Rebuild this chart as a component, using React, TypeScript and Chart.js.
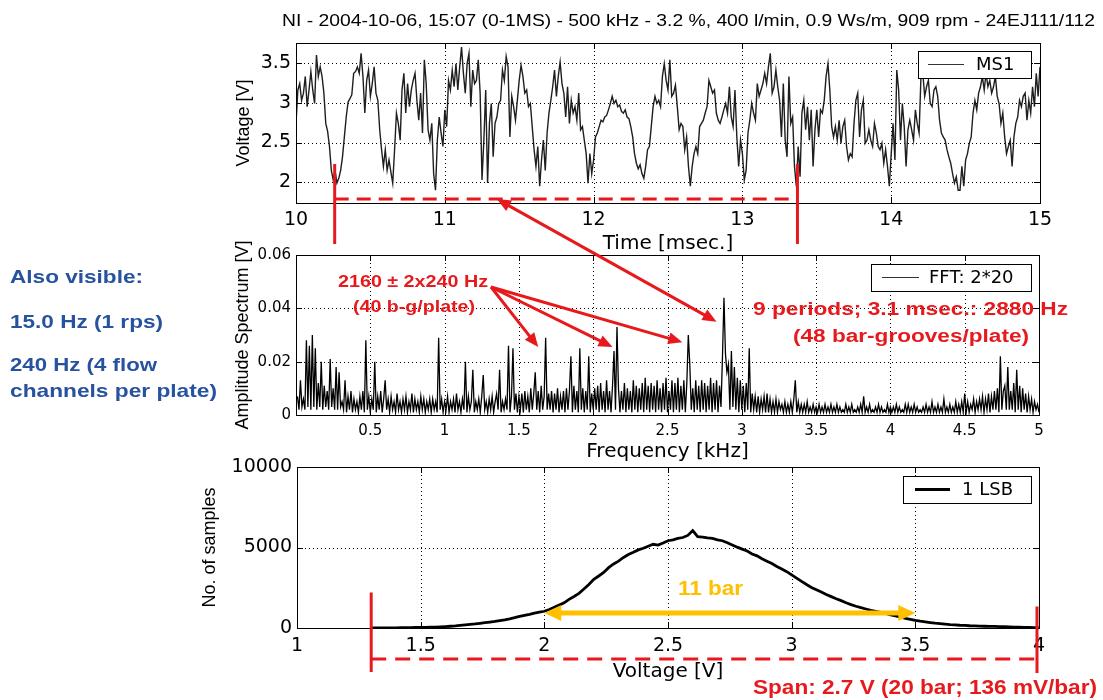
import React, { useEffect, useRef } from "react";
import { Chart, registerables } from "chart.js";

Chart.register(...registerables);

// ---------------- DATA ----------------
const FIG_TITLE =
  "NI - 2004-10-06, 15:07 (0-1MS) - 500 kHz - 3.2 %, 400 l/min, 0.9 Ws/m, 909 rpm - 24EJ111/112";

// Top: MS1 voltage trace, 10..15 msec
const timeStartMs = 10;
const timeStepMs = 0.0125;
const ms1Voltage = [
  2.74, 3.16, 3.24, 3.03, 3.12, 3.33, 2.95, 3.16, 3.39, 3.16,
  2.99, 3.6, 3.33, 3.45, 3.33, 3.12, 2.74, 2.64, 2.45, 2.15,
  2.03, 2.15, 1.99, 2.05, 2.15, 2.32, 2.57, 2.82, 3.01, 3.05,
  3.1, 3.37, 3.39, 3.45, 3.37, 3.62, 3.33, 2.87, 3.28, 3.41,
  3.08, 3.24, 3.45, 3.12, 3.03, 2.66, 2.41, 2.2, 2.41, 2.15,
  2.28, 2.13, 1.99, 2.41, 2.87, 2.74, 2.53, 3.16, 3.37, 2.87,
  3.24, 2.95, 3.16, 3.28, 3.37, 3.03, 2.78, 3.12, 2.62, 3.54,
  3.24, 2.66, 2.53, 2.74, 2.11, 1.9, 2.53, 2.82, 2.62, 2.45,
  2.91, 2.7, 3.28, 3.16, 3.41, 3.2, 3.49, 3.16, 3.45, 3.7,
  3.37, 3.12, 3.49, 3.62, 2.95, 3.41, 3.24, 3.28, 3.54, 3.12,
  2.03, 2.53, 3.16, 1.99, 2.74, 2.99, 2.32, 2.74, 2.82, 2.99,
  3.03, 3.41, 3.28, 3.58, 3.45, 2.57, 3.08, 2.95, 2.78, 3.03,
  3.28, 3.47, 3.33, 3.12, 3.16, 2.95, 2.99, 2.7, 2.41, 2.2,
  2.45, 1.95, 2.28, 2.53, 2.15, 2.62, 2.87, 3.03, 3.2, 3.41,
  3.08, 3.33, 3.51, 3.24, 3.12, 2.82, 3.2, 2.74, 3.03, 2.87,
  2.95, 2.78, 3.12, 2.66, 2.7, 2.53, 2.36, 1.99, 2.36, 2.11,
  2.28, 2.57, 2.62, 2.7, 2.78, 2.76, 2.82, 2.84, 2.91, 2.99,
  3.08, 2.99, 3.03, 2.95, 2.97, 2.89, 2.87, 2.91, 2.82, 2.8,
  2.7, 2.57, 2.36, 2.24, 2.17, 2.22, 2.11, 2.05, 2.2, 2.41,
  2.45, 2.7, 2.95, 3.08, 2.99, 3.03, 2.95, 3.33, 3.49, 3.28,
  3.16, 3.54, 3.08, 3.12, 3.22, 2.95, 2.66, 2.74, 2.7, 2.41,
  2.57, 2.2, 1.95, 2.2, 2.36, 2.45, 2.36, 2.7, 2.74, 2.78,
  2.87, 2.95, 3.28, 3.2, 3.12, 3.16, 2.87, 2.78, 2.74, 2.82,
  2.91, 2.99, 2.87, 3.2, 2.82, 2.7, 3.16, 2.57, 2.2, 2.53,
  2.36, 2.03, 2.15, 2.62, 2.78, 2.99, 2.87, 2.78, 3.24, 3.08,
  3.16, 3.24, 3.37, 3.24, 3.45, 3.62, 3.12, 3.2, 3.41, 3.2,
  3.03, 2.57, 3.24, 2.53, 2.32, 3.33, 2.74, 2.82, 2.2, 1.95,
  2.45, 2.07, 2.87, 3.03, 2.66, 2.95, 2.53, 2.91, 2.2, 2.66,
  2.91, 2.57, 2.91, 2.87, 3.03, 3.33, 3.49, 3.16, 2.7, 2.57,
  2.7, 2.53, 2.78, 2.49, 2.7, 2.78, 2.45, 2.28, 2.36, 2.32,
  2.74, 3.03, 3.12, 2.57, 2.91, 3.03, 2.49, 2.53, 2.66, 2.53,
  2.45, 2.74, 2.62, 2.45, 2.41, 2.49, 2.24, 2.41, 2.2, 1.95,
  2.36, 2.74, 2.28, 3.41, 3.16, 2.53, 2.99, 2.7, 2.2, 2.66,
  2.78, 2.66, 2.53, 2.91, 2.74, 2.62, 3.33, 3.37, 3.08, 3.2,
  3.28, 2.99, 2.95, 3.16, 3.2, 3.08, 2.78, 2.62, 2.57, 2.53,
  2.41, 2.32, 2.24, 2.11, 1.99, 2.07, 1.9, 1.9, 2.2, 1.95,
  2.28, 2.36, 2.49, 2.57, 2.87, 3.03, 2.91, 3.12, 3.2, 3.33,
  3.16, 3.37, 3.2, 3.28, 3.12, 3.2, 3.33, 3.08, 2.99, 2.74,
  2.87, 2.57, 2.36, 2.45, 2.53, 2.2, 2.57, 2.74, 2.82, 3.03,
  2.95, 3.08, 3.12, 2.78, 3.03, 2.87, 3.2, 2.95, 3.37, 3.08,
  3.45,
];
const timeTickValues = [10, 11, 12, 13, 14, 15];
const voltageTickValues = [2, 2.5, 3, 3.5];

// Middle: FFT amplitude spectrum (mV), 0.01..5.00 kHz
const freqStartKHz = 0.01;
const freqStepKHz = 0.01;
const fftAmplitudeMilliVolt = [
  7, 2, 13, 3, 6, 2, 28, 3, 26, 2,
  30, 3, 25, 2, 12, 3, 20, 2, 11, 3,
  9, 2, 21, 3, 10, 2, 18, 2, 16, 3,
  5, 2, 13, 1, 7, 2, 9, 1, 6, 2,
  5, 1, 7, 2, 9, 1, 28, 2, 7, 1,
  6, 2, 20, 1, 7, 2, 9, 1, 6, 13,
  2, 6, 1, 7, 2, 5, 1, 8, 2, 5,
  1, 6, 2, 7, 1, 5, 2, 8, 1, 6,
  2, 5, 1, 7, 2, 6, 1, 5, 2, 6,
  1, 6, 2, 5, 1, 29, 2, 6, 1, 5,
  2, 7, 1, 5, 2, 6, 1, 8, 2, 5,
  1, 6, 2, 20, 1, 7, 2, 5, 17, 1,
  5, 2, 6, 1, 7, 15, 2, 5, 1, 6,
  2, 7, 1, 5, 8, 2, 17, 1, 5, 2,
  6, 2, 26, 1, 7, 25, 2, 8, 1, 7,
  2, 8, 1, 9, 2, 7, 1, 10, 2, 8,
  16, 2, 9, 1, 11, 2, 7, 29, 2, 8,
  2, 9, 1, 8, 2, 10, 1, 7, 2, 9,
  1, 10, 2, 9, 22, 1, 11, 2, 9, 1,
  25, 2, 10, 1, 9, 2, 22, 1, 8, 2,
  10, 2, 11, 1, 12, 2, 9, 1, 13, 2,
  9, 1, 11, 24, 2, 33, 10, 1, 9, 2,
  12, 1, 10, 2, 9, 1, 13, 2, 11, 1,
  10, 2, 12, 1, 14, 2, 11, 1, 12, 2,
  11, 1, 13, 2, 10, 1, 12, 2, 14, 1,
  9, 2, 13, 1, 12, 2, 14, 1, 11, 2,
  13, 1, 12, 30, 19, 2, 10, 1, 13, 2,
  11, 1, 13, 2, 12, 1, 11, 2, 14, 1,
  12, 2, 13, 1, 11, 3, 22, 44, 23, 16,
  19, 2, 24, 3, 18, 2, 14, 1, 13, 2,
  11, 1, 12, 2, 25, 1, 8, 2, 7, 1,
  7, 1, 6, 2, 7, 1, 8, 1, 6, 1,
  5, 1, 6, 1, 5, 2, 4, 1, 5, 1,
  4, 1, 5, 1, 6, 13, 1, 5, 1, 4,
  1, 4, 1, 5, 1, 3, 1, 4, 1, 3,
  1, 4, 1, 3, 1, 4, 1, 3, 1, 4,
  1, 3, 1, 4, 1, 3, 1, 2, 1, 4,
  1, 3, 1, 4, 1, 2, 1, 3, 1, 4,
  1, 7, 1, 3, 1, 4, 1, 2, 1, 3,
  1, 4, 1, 3, 1, 2, 1, 4, 1, 3,
  1, 3, 1, 4, 1, 3, 1, 2, 1, 4,
  1, 4, 1, 3, 1, 4, 1, 3, 1, 2,
  1, 3, 1, 4, 1, 3, 1, 5, 1, 3,
  1, 4, 1, 3, 1, 6, 1, 3, 1, 4,
  1, 3, 1, 5, 1, 4, 1, 5, 1, 8,
  1, 5, 1, 4, 2, 6, 1, 5, 2, 6,
  2, 7, 1, 6, 2, 8, 1, 7, 2, 9,
  2, 10, 1, 22, 2, 9, 11, 2, 18, 2,
  9, 2, 12, 1, 17, 2, 11, 1, 10, 2,
  8, 1, 7, 2, 6, 1, 5, 2, 4, 1,
];
const freqTickValues = [0.5, 1, 1.5, 2, 2.5, 3, 3.5, 4, 4.5, 5];
const ampTickValues = [0, 0.02, 0.04, 0.06];

// Bottom: histogram of samples per LSB, 1.30..4.00 V
const histVoltageStart = 1.3;
const histVoltageStep = 0.02;
const histCounts = [
  0, 0, 5, 5, 10, 10, 15, 20, 20, 30,
  35, 40, 50, 60, 75, 90, 110, 130, 160, 190,
  220, 250, 290, 330, 370, 410, 460, 510, 570, 640,
  720, 790, 850, 920, 980, 1040, 1150, 1280, 1420, 1560,
  1780, 1960, 2150, 2420, 2700, 3020, 3230, 3450, 3750, 3980,
  4150, 4380, 4560, 4700, 4850, 4950, 5080, 5200, 5150, 5280,
  5420, 5480, 5560, 5620, 5750, 6050, 5680, 5650, 5600, 5560,
  5480, 5420, 5300, 5150, 5020, 4900, 4780, 4600, 4480, 4300,
  4150, 4000, 3820, 3660, 3500, 3300, 3100, 2900, 2700, 2520,
  2380, 2230, 2080, 1950, 1820, 1700, 1570, 1450, 1350, 1260,
  1180, 1100, 1040, 970, 900, 820, 750, 680, 600, 540,
  480, 420, 380, 340, 300, 270, 240, 210, 190, 170,
  160, 140, 130, 120, 110, 100, 100, 90, 80, 70,
  60, 50, 40, 30, 20, 10,
];
const histVoltTickValues = [1, 1.5, 2, 2.5, 3, 3.5, 4];
const countTickValues = [0, 5000, 10000];

const sideNotes = ["Also visible:", "15.0 Hz (1 rps)", "240 Hz (4 flow", "channels per plate)"];

// Annotation anchors (data units)
const periodSpanMs = [10.26, 13.37];
const periodMarkVolt = 1.79;
const periodMarkTopVolt = 2.23;
const sidebandTargets = [
  [1.63, 0.0255],
  [2.13, 0.0255],
  [2.6, 0.0273],
];
const mainPeakTarget = [2.83, 0.035];
const elevenBarRange = [2.0, 3.5];
const elevenBarCount = 930;
const spanRange = [1.3, 4.0];

// ---------------- HELPERS ----------------
const TICK_FONT = "DejaVu Sans";

type LegendSpec = {
  text: string;
  rightInset: number;
  topInset: number;
  w: number;
  h: number;
  lineFrom: number;
  lineTo: number;
  lineWidth: number;
  lineColor: string;
  textFrom: number;
};

function framePlugin(gridX: number[], gridY: number[], legend: LegendSpec) {
  return {
    id: "frame",
    beforeDatasetsDraw(chart: any) {
      const { ctx, chartArea: a, scales } = chart;
      ctx.save();
      ctx.strokeStyle = "#000";
      ctx.lineWidth = 1;
      ctx.setLineDash([1, 3]);
      ctx.beginPath();
      gridX.forEach((v) => {
        const x = Math.round(scales.x.getPixelForValue(v)) + 0.5;
        ctx.moveTo(x, a.top);
        ctx.lineTo(x, a.bottom);
      });
      gridY.forEach((v) => {
        const y = Math.round(scales.y.getPixelForValue(v)) + 0.5;
        ctx.moveTo(a.left, y);
        ctx.lineTo(a.right, y);
      });
      ctx.stroke();
      ctx.restore();
    },
    afterDatasetsDraw(chart: any) {
      const { ctx, chartArea: a, scales } = chart;
      ctx.save();
      ctx.strokeStyle = "#000";
      ctx.lineWidth = 1;
      const tl = 6;
      ctx.beginPath();
      scales.x.ticks.forEach((t: any) => {
        const x = Math.round(scales.x.getPixelForValue(t.value)) + 0.5;
        ctx.moveTo(x, a.bottom);
        ctx.lineTo(x, a.bottom - tl);
        ctx.moveTo(x, a.top);
        ctx.lineTo(x, a.top + tl);
      });
      scales.y.ticks.forEach((t: any) => {
        const y = Math.round(scales.y.getPixelForValue(t.value)) + 0.5;
        ctx.moveTo(a.left, y);
        ctx.lineTo(a.left + tl, y);
        ctx.moveTo(a.right, y);
        ctx.lineTo(a.right - tl, y);
      });
      ctx.stroke();
      ctx.strokeRect(
        Math.round(a.left) + 0.5,
        Math.round(a.top) + 0.5,
        Math.round(a.right) - Math.round(a.left),
        Math.round(a.bottom) - Math.round(a.top)
      );
      // legend
      const bx = Math.round(a.right - legend.rightInset - legend.w);
      const by = Math.round(a.top + legend.topInset);
      ctx.fillStyle = "#fff";
      ctx.fillRect(bx, by, legend.w, legend.h);
      ctx.strokeRect(bx + 0.5, by + 0.5, legend.w, legend.h);
      const cy = by + legend.h / 2;
      ctx.strokeStyle = legend.lineColor;
      ctx.lineWidth = legend.lineWidth;
      ctx.beginPath();
      ctx.moveTo(bx + legend.lineFrom, cy);
      ctx.lineTo(bx + legend.lineTo, cy);
      ctx.stroke();
      ctx.fillStyle = "#000";
      ctx.font = `18px "${TICK_FONT}"`;
      ctx.textBaseline = "middle";
      ctx.textAlign = "left";
      ctx.fillText(legend.text, bx + legend.textFrom, cy + 1);
      ctx.restore();
    },
  };
}

type AxisSpec = {
  min: number;
  max: number;
  ticks: number[];
  fontSize: number;
  pad: number;
  size: number;
  title: string;
  titlePad: number;
};

function xAxis(s: AxisSpec) {
  return {
    type: "linear",
    min: s.min,
    max: s.max,
    afterBuildTicks: (sc: any) => {
      sc.ticks = s.ticks.map((v) => ({ value: v }));
    },
    afterFit: (sc: any) => {
      sc.height = s.size;
    },
    grid: { display: false, drawTicks: false },
    border: { display: false },
    ticks: {
      autoSkip: false,
      maxRotation: 0,
      minRotation: 0,
      padding: s.pad,
      color: "#000",
      font: { family: TICK_FONT, size: s.fontSize },
      callback: (v: any) => String(v),
    },
    title: {
      display: true,
      text: s.title,
      color: "#000",
      font: { family: TICK_FONT, size: 20, lineHeight: 1.2 },
      padding: { top: 0, bottom: s.titlePad },
    },
  };
}

function yAxis(s: AxisSpec) {
  return {
    type: "linear",
    min: s.min,
    max: s.max,
    afterBuildTicks: (sc: any) => {
      sc.ticks = s.ticks.map((v) => ({ value: v }));
    },
    afterFit: (sc: any) => {
      sc.width = s.size;
    },
    grid: { display: false, drawTicks: false },
    border: { display: false },
    ticks: {
      autoSkip: false,
      padding: s.pad,
      color: "#000",
      font: { family: TICK_FONT, size: s.fontSize },
      callback: (v: any) => String(v),
    },
    title: {
      display: true,
      text: s.title,
      color: "#000",
      font: { family: "Liberation Sans", size: 18, lineHeight: 1.2 },
      padding: { top: s.titlePad, bottom: 0 },
    },
  };
}

function fitText(
  ctx: CanvasRenderingContext2D,
  text: string,
  x: number,
  baseline: number,
  width: number,
  font: string,
  color: string,
  align: "left" | "center"
) {
  ctx.save();
  ctx.font = font;
  const w = ctx.measureText(text).width;
  const s = width / w;
  ctx.translate(x, baseline);
  ctx.scale(s, 1);
  ctx.fillStyle = color;
  ctx.textAlign = align;
  ctx.textBaseline = "alphabetic";
  ctx.fillText(text, 0, 0);
  ctx.restore();
}

function arrowHead(ctx: CanvasRenderingContext2D, fx: number, fy: number, tx: number, ty: number, len: number, half: number) {
  const ang = Math.atan2(ty - fy, tx - fx);
  const bx = tx - len * Math.cos(ang);
  const by = ty - len * Math.sin(ang);
  ctx.beginPath();
  ctx.moveTo(tx, ty);
  ctx.lineTo(bx + half * Math.sin(ang), by - half * Math.cos(ang));
  ctx.lineTo(bx - half * Math.sin(ang), by + half * Math.cos(ang));
  ctx.closePath();
  ctx.fill();
}

function arrow(
  ctx: CanvasRenderingContext2D,
  x1: number,
  y1: number,
  x2: number,
  y2: number,
  color: string,
  width: number,
  len: number,
  half: number,
  both: boolean
) {
  ctx.save();
  ctx.strokeStyle = color;
  ctx.fillStyle = color;
  ctx.lineWidth = width;
  ctx.setLineDash([]);
  const ang = Math.atan2(y2 - y1, x2 - x1);
  const sx = both ? x1 + (len - 2) * Math.cos(ang) : x1;
  const sy = both ? y1 + (len - 2) * Math.sin(ang) : y1;
  const ex = x2 - (len - 2) * Math.cos(ang);
  const ey = y2 - (len - 2) * Math.sin(ang);
  ctx.beginPath();
  ctx.moveTo(sx, sy);
  ctx.lineTo(ex, ey);
  ctx.stroke();
  arrowHead(ctx, x1, y1, x2, y2, len, half);
  if (both) arrowHead(ctx, x2, y2, x1, y1, len, half);
  ctx.restore();
}

const TOP1 = 0;
const TOP2 = 230;
const TOP3 = 440;

function drawOverlay(cv: HTMLCanvasElement, ch1: any, ch2: any, ch3: any) {
  const ctx = cv.getContext("2d")!;
  ctx.clearRect(0, 0, cv.width, cv.height);
  const X1 = (v: number) => ch1.scales.x.getPixelForValue(v);
  const Y1 = (v: number) => ch1.scales.y.getPixelForValue(v) + TOP1;
  const X2 = (v: number) => ch2.scales.x.getPixelForValue(v);
  const Y2 = (v: number) => ch2.scales.y.getPixelForValue(v) + TOP2;
  const X3 = (v: number) => ch3.scales.x.getPixelForValue(v);
  const Y3 = (v: number) => ch3.scales.y.getPixelForValue(v) + TOP3;

  const RED = "#e8191c";
  const BLUE = "#26529f";
  const GOLD = "#ffc000";

  // figure title
  fitText(ctx, FIG_TITLE, 688.5, 26, 813, '16px "Liberation Sans"', "#000", "center");

  // side notes
  const sideBase = [283, 327.5, 370.5, 397];
  const sideW = [133, 153, 147, 207];
  sideNotes.forEach((t, i) =>
    fitText(ctx, t, 10, sideBase[i], sideW[i], 'bold 19px "Liberation Sans"', BLUE, "left")
  );

  // period markers in top plot
  const xa = X1(periodSpanMs[0]);
  const xb = X1(periodSpanMs[1]);
  const ym = Y1(periodMarkVolt);
  const yTop = Y1(periodMarkTopVolt);
  const yLow = ch1.chartArea.bottom + TOP1 + 41;
  ctx.save();
  ctx.strokeStyle = RED;
  ctx.lineWidth = 3;
  ctx.beginPath();
  ctx.moveTo(xa, yTop);
  ctx.lineTo(xa, yLow);
  ctx.moveTo(xb, yTop);
  ctx.lineTo(xb, yLow);
  ctx.stroke();
  ctx.setLineDash([14, 8]);
  ctx.beginPath();
  ctx.moveTo(xa, ym);
  ctx.lineTo(xb, ym);
  ctx.stroke();
  ctx.restore();

  // arrow from dashed line to 2880 Hz peak
  arrow(ctx, X1(11.35), ym, X2(mainPeakTarget[0]), Y2(mainPeakTarget[1]), RED, 3, 14, 6, true);

  // sideband arrows
  const ox = 491;
  const oy = 287;
  sidebandTargets.forEach(([f, a]) => arrow(ctx, ox, oy, X2(f), Y2(a), RED, 3, 14, 6, false));

  // red texts
  fitText(ctx, "2160 \u00b1 2x240 Hz", 413, 286.5, 150, 'bold 16px "Liberation Sans"', RED, "center");
  fitText(ctx, "(40 b-g/plate)", 414, 311.5, 122, 'bold 16px "Liberation Sans"', RED, "center");
  fitText(ctx, "9 periods; 3.1 msec.: 2880 Hz", 910.5, 315, 315, 'bold 18px "Liberation Sans"', RED, "center");
  fitText(ctx, "(48 bar-grooves/plate)", 911, 341.5, 236, 'bold 18px "Liberation Sans"', RED, "center");

  // yellow 11 bar arrow
  const yy = Y3(elevenBarCount);
  arrow(ctx, X3(elevenBarRange[0]), yy, X3(elevenBarRange[1]), yy, GOLD, 5, 17, 8, true);
  fitText(ctx, "11 bar", 710.5, 595, 65, 'bold 20px "Liberation Sans"', GOLD, "center");

  // span markers
  const sx1 = X3(spanRange[0]);
  const sx2 = X3(spanRange[1]) - 2;
  ctx.save();
  ctx.strokeStyle = RED;
  ctx.lineWidth = 3;
  ctx.beginPath();
  ctx.moveTo(sx1, Y3(2210));
  ctx.lineTo(sx1, 672);
  ctx.moveTo(sx2, Y3(1340));
  ctx.lineTo(sx2, 673);
  ctx.stroke();
  ctx.setLineDash([15, 9]);
  ctx.beginPath();
  ctx.moveTo(sx1, 659);
  ctx.lineTo(sx2, 659);
  ctx.stroke();
  ctx.restore();
  fitText(ctx, "Span: 2.7 V (20 bar; 136 mV/bar)", 925, 693.5, 344, 'bold 20px "Liberation Sans"', RED, "center");
}

// ---------------- COMPONENT ----------------
export default function App() {
  const c1 = useRef<HTMLCanvasElement>(null);
  const c2 = useRef<HTMLCanvasElement>(null);
  const c3 = useRef<HTMLCanvasElement>(null);
  const ov = useRef<HTMLCanvasElement>(null);

  useEffect(() => {
    const ms1Points = ms1Voltage.map((v, i) => ({ x: timeStartMs + i * timeStepMs, y: v }));
    const fftPoints = fftAmplitudeMilliVolt.map((v, i) => ({
      x: freqStartKHz + i * freqStepKHz,
      y: v / 1000,
    }));
    const histPoints = histCounts.map((v, i) => ({ x: histVoltageStart + i * histVoltageStep, y: v }));

    const common = (padding: any) => ({
      responsive: false,
      animation: false,
      layout: { padding },
      plugins: { legend: { display: false }, tooltip: { enabled: false }, title: { display: false } },
      events: [],
    });

    const ch1 = new Chart(c1.current!, {
      type: "line",
      data: {
        datasets: [
          { data: ms1Points, borderColor: "#1e1e1e", borderWidth: 1.4, pointRadius: 0, tension: 0, fill: false },
        ],
      },
      options: {
        ...common({ left: 226, right: 63, top: 43, bottom: 4 }),
        scales: {
          x: xAxis({
            min: 10, max: 15, ticks: timeTickValues,
            fontSize: 19, pad: 6, size: 53, title: "Time [msec.]", titlePad: 0,
          }),
          y: yAxis({
            min: 1.74, max: 3.75, ticks: voltageTickValues,
            fontSize: 19, pad: 5, size: 70, title: "Voltage [V]", titlePad: 7,
          }),
        },
      } as any,
      plugins: [
        framePlugin([11, 12, 13, 14], voltageTickValues, {
          text: "MS1", rightInset: 9, topInset: 8, w: 113, h: 27,
          lineFrom: 10, lineTo: 46, lineWidth: 1, lineColor: "#333", textFrom: 58,
        }),
      ],
    } as any);

    const ch2 = new Chart(c2.current!, {
      type: "line",
      data: {
        datasets: [
          { data: fftPoints, borderColor: "#000", borderWidth: 1.3, pointRadius: 0, tension: 0, fill: false },
        ],
      },
      options: {
        ...common({ left: 226, right: 64, top: 25, bottom: 6 }),
        scales: {
          x: xAxis({
            min: 0, max: 5, ticks: freqTickValues,
            fontSize: 15, pad: 7, size: 49, title: "Frequency [kHz]", titlePad: 0,
          }),
          y: yAxis({
            min: 0, max: 0.06, ticks: ampTickValues,
            fontSize: 15, pad: 5, size: 70, title: "Amplitude Spectrum [V]", titlePad: 6,
          }),
        },
      } as any,
      plugins: [
        framePlugin([0.5, 1, 1.5, 2, 2.5, 3, 3.5, 4, 4.5], [0.02, 0.04], {
          text: "FFT: 2*20", rightInset: 8, topInset: 9, w: 160, h: 27,
          lineFrom: 11, lineTo: 48, lineWidth: 1, lineColor: "#333", textFrom: 58,
        }),
      ],
    } as any);

    const ch3 = new Chart(c3.current!, {
      type: "line",
      data: {
        datasets: [
          { data: histPoints, borderColor: "#000", borderWidth: 2.8, pointRadius: 0, tension: 0, fill: false },
        ],
      },
      options: {
        ...common({ left: 197, right: 64, top: 27, bottom: 16 }),
        scales: {
          x: xAxis({
            min: 1, max: 4, ticks: histVoltTickValues,
            fontSize: 19, pad: 7, size: 56, title: "Voltage [V]", titlePad: 0,
          }),
          y: yAxis({
            min: 0, max: 10000, ticks: countTickValues,
            fontSize: 19, pad: 5, size: 100, title: "No. of samples", titlePad: 2,
          }),
        },
      } as any,
      plugins: [
        framePlugin([1.5, 2, 2.5, 3, 3.5], [5000], {
          text: "1 LSB", rightInset: 8, topInset: 9, w: 128, h: 27,
          lineFrom: 12, lineTo: 47, lineWidth: 3, lineColor: "#000", textFrom: 59,
        }),
      ],
    } as any);

    drawOverlay(ov.current!, ch1, ch2, ch3);

    return () => {
      ch1.destroy();
      ch2.destroy();
      ch3.destroy();
    };
  }, []);

  const abs = (top: number): React.CSSProperties => ({ position: "absolute", left: 0, top });

  return (
    <div
      style={{
        position: "absolute",
        left: 0,
        top: 0,
        width: 1103,
        height: 700,
        background: "#fff",
        overflow: "hidden",
      }}
    >
      <canvas ref={c1} width={1103} height={260} style={abs(TOP1)} />
      <canvas ref={c2} width={1103} height={240} style={abs(TOP2)} />
      <canvas ref={c3} width={1103} height={260} style={abs(TOP3)} />
      <canvas ref={ov} width={1103} height={700} style={{ ...abs(0), pointerEvents: "none" }} />
    </div>
  );
}
